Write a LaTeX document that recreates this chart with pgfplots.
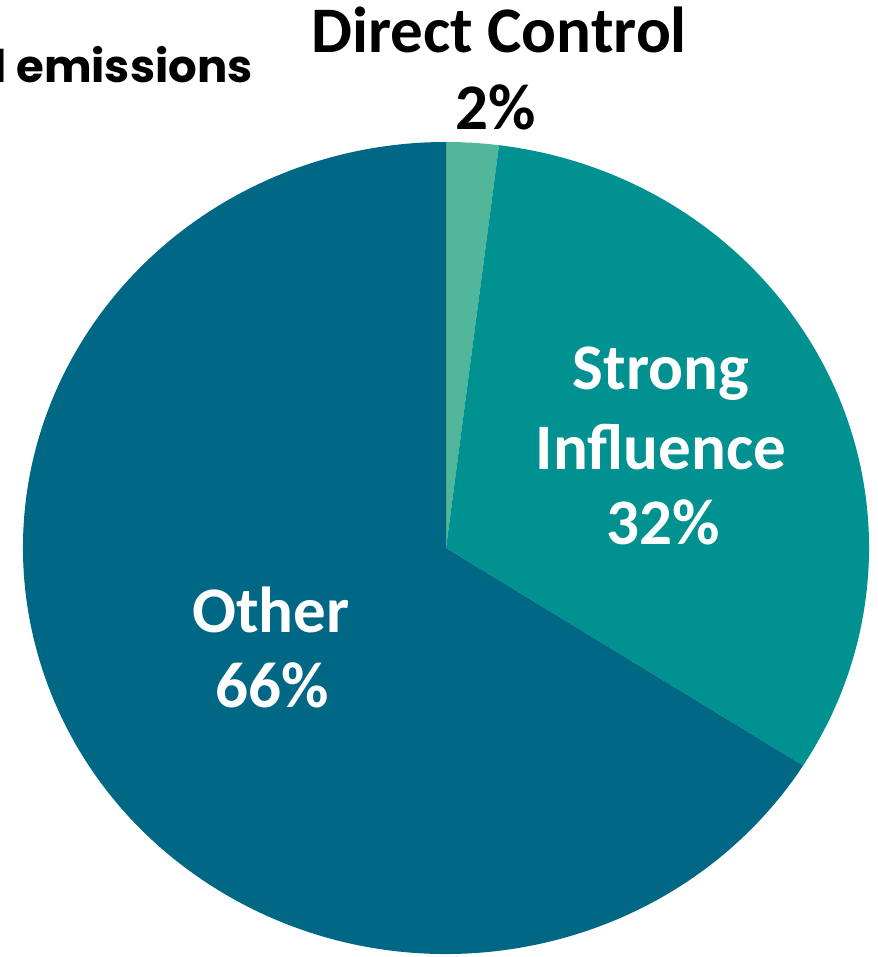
\documentclass[border=0pt]{standalone}
\usepackage{pgfplots}
\pgfplotsset{compat=1.18}
\usepackage{pgfplotstable}
\usepackage{fontspec}
\setmainfont{Carlito}
\newfontfamily\titlefont{Poppins}

\definecolor{cDirect}{HTML}{52B79A}
\definecolor{cStrong}{HTML}{009190}
\definecolor{cOther}{HTML}{006884}

% share of emissions, percent
\pgfplotstableread{
label value
Direct 2
Strong 32
Other 66
}\piedata

\begin{document}
\begin{tikzpicture}
\useasboundingbox (0,0) rectangle (438.5pt,478.5pt);

% slice angles, clockwise from 12 o'clock
\pgfplotstablegetelem{0}{value}\of\piedata \let\vA\pgfplotsretval
\pgfplotstablegetelem{1}{value}\of\piedata \let\vB\pgfplotsretval
\pgfplotstablegetelem{2}{value}\of\piedata \let\vC\pgfplotsretval
\pgfmathsetmacro{\aA}{90}
\pgfmathsetmacro{\aB}{\aA-3.6*\vA}
\pgfmathsetmacro{\aC}{\aB-3.6*\vB}
\pgfmathsetmacro{\aD}{\aC-3.6*\vC}

\begin{axis}[
    at={(223pt,204.5pt)}, anchor=center,
    scale only axis, width=423pt, height=406pt,
    xmin=-1, xmax=1, ymin=-1, ymax=1,
    hide axis, clip=false,
]
\fill[cDirect] (axis cs:0,0) -- (axis cs:{cos(\aA)},{sin(\aA)})
    arc[start angle=\aA, end angle=\aB, x radius=211.5pt, y radius=203pt] -- cycle;
\fill[cStrong] (axis cs:0,0) -- (axis cs:{cos(\aB)},{sin(\aB)})
    arc[start angle=\aB, end angle=\aC, x radius=211.5pt, y radius=203pt] -- cycle;
\fill[cOther] (axis cs:0,0) -- (axis cs:{cos(\aC)},{sin(\aC)})
    arc[start angle=\aC, end angle=\aD, x radius=211.5pt, y radius=203pt] -- cycle;
\end{axis}

% labels, placed in pixel coordinates of the reference
\begin{scope}[x=0.5pt, y=-0.5pt, shift={(0pt,478.5pt)}]
  \begin{scope}
    \clip (0,0) rectangle (877,957);
    \node[anchor=base east, inner sep=0pt, font=\titlefont\bfseries\fontsize{22.5}{27}\selectfont]
      at (253,83) {global emissions};
  \end{scope}
  \tikzset{lab/.style={anchor=base, inner sep=0pt, font=\bfseries\fontsize{32.5}{38}\selectfont}}
  \node[lab] at (499,53) {Direct Control};
  \node[lab] at (496,130) {2\%};
  \node[lab, white] at (661,390) {Strong};
  \node[lab, white] at (661,470) {Influence};
  \node[lab, white] at (663,545) {32\%};
  \node[lab, white] at (271,633) {Other};
  \node[lab, white] at (272,708) {66\%};
\end{scope}
\end{tikzpicture}
\end{document}
